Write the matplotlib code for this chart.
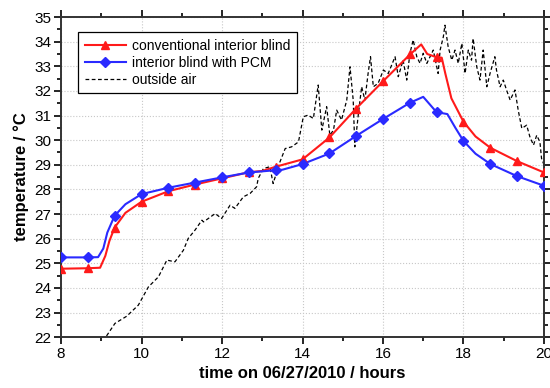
import matplotlib.pyplot as plt
from matplotlib.ticker import MultipleLocator

plt.rcParams['font.family'] = ['Liberation Sans', 'DejaVu Sans']

# conventional interior blind
conv_t = [8.0, 8.67, 8.97, 9.1, 9.2, 9.33, 9.6, 10.0, 10.67, 11.33, 12.0, 12.67, 13.0,
          13.33, 14.0, 14.67, 15.33, 16.0, 16.67, 16.95, 17.1, 17.33, 17.46, 17.55,
          17.7, 18.0, 18.3, 18.67, 19.33, 20.0]
conv_T = [24.78, 24.8, 24.82, 25.3, 25.9, 26.45, 27.05, 27.5, 27.93, 28.2, 28.45, 28.7, 28.75,
          28.92, 29.22, 30.11, 31.28, 32.39, 33.48, 33.89, 33.5, 33.37, 33.35, 32.7,
          31.7, 30.75, 30.15, 29.69, 29.15, 28.69]
conv_mark = [8.0, 8.67, 9.33, 10.0, 10.67, 11.33, 12.0, 12.67, 13.33, 14.0, 14.67, 15.33,
             16.0, 16.67, 17.33, 18.0, 18.67, 19.33, 20.0]

# interior blind with PCM
pcm_t = [8.0, 8.67, 8.92, 9.05, 9.15, 9.33, 9.6, 10.0, 10.67, 11.33, 12.0, 12.67, 13.33,
         13.5, 14.0, 14.67, 15.33, 16.0, 16.67, 17.0, 17.33, 17.6, 17.8, 18.0, 18.3,
         18.67, 19.33, 20.0]
pcm_T = [25.24, 25.24, 25.25, 25.6, 26.25, 26.93, 27.4, 27.81, 28.07, 28.28, 28.49, 28.69, 28.78,
         28.8, 29.03, 29.46, 30.17, 30.86, 31.52, 31.76, 31.14, 31.06, 30.5, 29.97, 29.45,
         29.03, 28.54, 28.15]

# outside air
air_t = [9.13, 9.34, 9.63, 9.92, 10.17, 10.42, 10.63, 10.83, 11.04, 11.16, 11.33, 11.5,
         11.54, 11.83, 11.99, 12.2, 12.32, 12.53, 12.7, 12.86, 12.9, 13.03, 13.19, 13.27,
         13.44, 13.57, 13.73, 13.9, 14.02, 14.14, 14.27, 14.39, 14.48, 14.6, 14.68, 14.77,
         14.85, 14.97, 15.1, 15.18, 15.26, 15.3, 15.39, 15.47, 15.55, 15.63, 15.69, 15.76,
         15.88, 16.01, 16.13, 16.3, 16.38, 16.5, 16.59, 16.67, 16.75, 16.84, 16.92, 17.0,
         17.09, 17.17, 17.25, 17.37, 17.42, 17.5, 17.54, 17.62, 17.71, 17.79, 17.87, 17.96,
         18.04, 18.12, 18.2, 18.24, 18.33, 18.41, 18.49, 18.58, 18.66, 18.78, 18.82, 18.91,
         18.99, 19.07, 19.16, 19.28, 19.36, 19.45, 19.57, 19.65, 19.74, 19.82, 19.9, 19.94,
         20.02]
air_T = [22.05, 22.56, 22.85, 23.3, 24.04, 24.45, 25.13, 25.06, 25.53, 26.01, 26.35, 26.75,
         26.68, 27.02, 26.82, 27.36, 27.23, 27.7, 27.84, 28.11, 28.45, 28.85, 28.92, 28.24,
         29.12, 29.66, 29.73, 29.93, 30.95, 31.02, 30.88, 32.24, 30.41, 31.36, 30.2, 30.41,
         31.22, 30.82, 31.63, 32.98, 31.63, 29.73, 31.09, 32.17, 31.63, 32.71, 33.39, 32.17,
         32.31, 32.85, 32.71, 33.39, 32.58, 33.25, 32.44, 33.53, 34.07, 33.39, 33.12, 33.53,
         33.12, 33.39, 33.66, 32.71, 33.66, 34.2, 34.67, 33.79, 33.25, 33.66, 33.12, 33.93,
         32.71, 33.66, 33.25, 34.13, 32.98, 32.44, 33.66, 32.17, 32.71, 33.39, 32.85, 32.17,
         32.44, 32.04, 31.63, 32.04, 31.22, 30.48, 30.61, 30.14, 29.8, 30.2, 29.93, 29.26,
         28.92]

fig = plt.figure(figsize=(5.5, 3.88), dpi=100)
ax = fig.add_axes([0.111, 0.131, 0.878, 0.825])

ax.plot(air_t, air_T, color='black', linestyle='--', linewidth=0.9,
        dashes=(3, 2), zorder=2)
ax.plot(conv_t, conv_T, color='#ff1a1a', linewidth=1.5, zorder=3)
ax.plot(pcm_t, pcm_T, color='#2a2aff', linewidth=1.5, zorder=3)
ax.plot(conv_mark, [conv_T[conv_t.index(t)] for t in conv_mark], linestyle='none',
        marker='^', markersize=6, color='#ff1a1a', zorder=4)
ax.plot(conv_mark, [pcm_T[pcm_t.index(t)] for t in conv_mark], linestyle='none',
        marker='D', markersize=5.5, color='#2a2aff', zorder=4)

# legend handles
h1, = ax.plot([], [], color='#ff1a1a', linewidth=1.5, marker='^', markersize=6)
h2, = ax.plot([], [], color='#2a2aff', linewidth=1.5, marker='D', markersize=5.5)
h3, = ax.plot([], [], color='black', linestyle='--', linewidth=0.9, dashes=(3, 2))
leg = ax.legend([h1, h2, h3], ['conventional interior blind', 'interior blind with PCM', 'outside air'],
                loc='upper left', bbox_to_anchor=(0.02, 0.975), fontsize=10,
                fancybox=False, edgecolor='black', framealpha=1, handlelength=3.0,
                borderpad=0.5, labelspacing=0.2, handletextpad=0.4)
leg.get_frame().set_linewidth(0.9)

ax.set_xlim(8, 20)
ax.set_ylim(22, 35)
ax.xaxis.set_major_locator(MultipleLocator(2))
ax.xaxis.set_minor_locator(MultipleLocator(1))
ax.yaxis.set_major_locator(MultipleLocator(1))
ax.yaxis.set_minor_locator(MultipleLocator(0.5))
ax.tick_params(which='both', direction='out', top=True, right=True, labelsize=11, width=1.2)
ax.tick_params(which='major', length=5, pad=2)
ax.tick_params(which='minor', length=3)
for s in ax.spines.values():
    s.set_linewidth(1.4)
    s.set_color('#333333')
ax.grid(True, which='major', linestyle=':', color='#c8c8c8', linewidth=0.8)

ax.set_xlabel('time on 06/27/2010 / hours', fontsize=12, fontweight='bold', labelpad=4)
ax.set_ylabel('temperature / °C', fontsize=12, fontweight='bold', labelpad=4)

fig.savefig('out.png', dpi=100)
